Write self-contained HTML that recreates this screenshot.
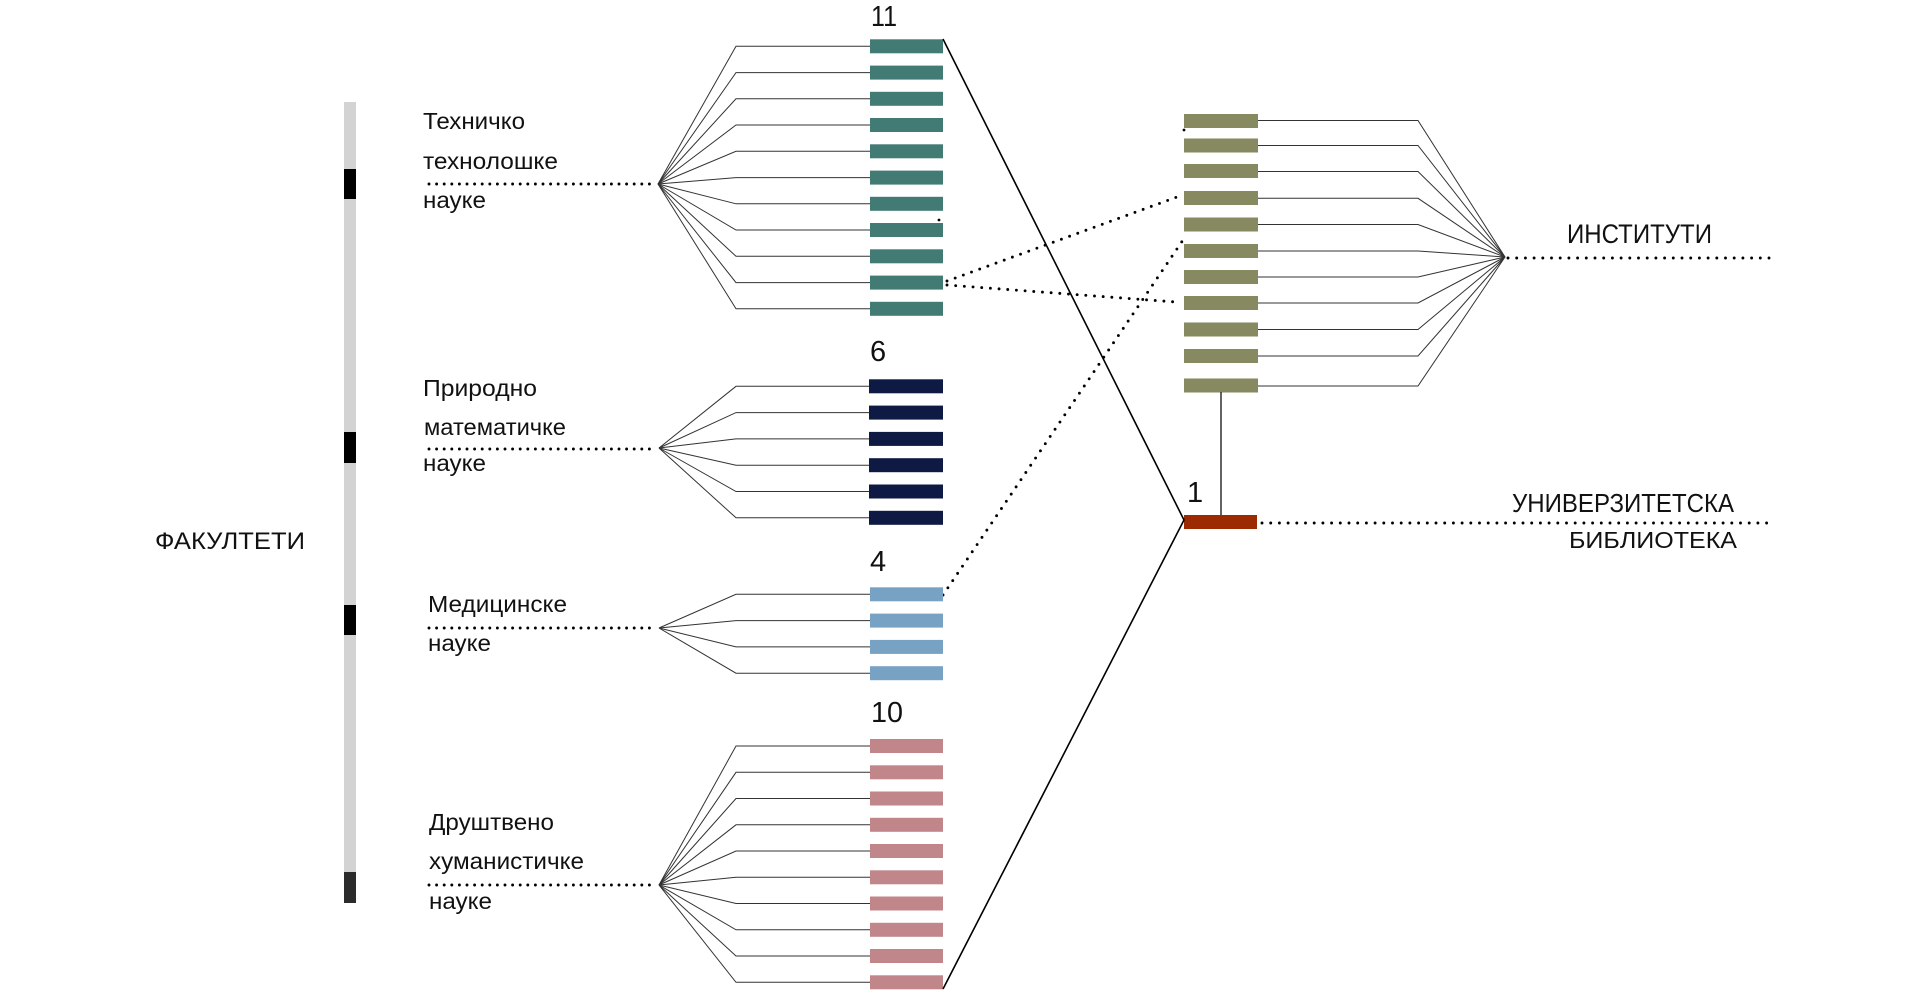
<!DOCTYPE html>
<html><head><meta charset="utf-8"><style>
html,body{margin:0;padding:0;background:#fff;}
svg{display:block;}
text{font-family:"Liberation Sans","Noto Sans CJK SC",sans-serif;fill:#111;}
</style></head><body>
<svg width="1920" height="998" viewBox="0 0 1920 998" xmlns="http://www.w3.org/2000/svg">
<!-- left vertical bar -->
<rect x="344" y="102" width="12" height="801" fill="#d3d3d3"/>
<rect x="344" y="169" width="12" height="30" fill="#000"/>
<rect x="344" y="432" width="12" height="31" fill="#000"/>
<rect x="344" y="605" width="12" height="30" fill="#000"/>
<rect x="344" y="872" width="12" height="31" fill="#2b2b2b"/>

<text x="155" y="549" font-size="24" textLength="150" lengthAdjust="spacingAndGlyphs">ФАКУЛТЕТИ</text>

<!-- left labels -->
<g font-size="23.5">
<text x="423" y="129" textLength="102" lengthAdjust="spacingAndGlyphs">Техничко</text>
<text x="423" y="169" textLength="135" lengthAdjust="spacingAndGlyphs">технолошке</text>
<text x="423" y="208" textLength="63" lengthAdjust="spacingAndGlyphs">науке</text>
<text x="423" y="396" textLength="114" lengthAdjust="spacingAndGlyphs">Природно</text>
<text x="424" y="435" textLength="142" lengthAdjust="spacingAndGlyphs">математичке</text>
<text x="423" y="471" textLength="63" lengthAdjust="spacingAndGlyphs">науке</text>
<text x="428" y="612" textLength="139" lengthAdjust="spacingAndGlyphs">Медицинске</text>
<text x="428" y="651" textLength="63" lengthAdjust="spacingAndGlyphs">науке</text>
<text x="429" y="830" textLength="125" lengthAdjust="spacingAndGlyphs">Друштвено</text>
<text x="429" y="869" textLength="155" lengthAdjust="spacingAndGlyphs">хуманистичке</text>
<text x="429" y="909" textLength="63" lengthAdjust="spacingAndGlyphs">науке</text>
</g>

<!-- numbers -->
<g font-size="29">
<text x="871" y="26" textLength="26" lengthAdjust="spacingAndGlyphs">11</text>
<text x="870" y="361">6</text>
<text x="870" y="571">4</text>
<text x="871" y="722" textLength="32" lengthAdjust="spacingAndGlyphs">10</text>
<text x="1187" y="502">1</text>
</g>

<!-- dotted lines -->
<g stroke="#000" stroke-width="2.9" stroke-linecap="round" stroke-dasharray="0 7.6" fill="none">
<line x1="429" y1="184" x2="652" y2="184"/>
<line x1="429" y1="449" x2="652" y2="449"/>
<line x1="429" y1="628" x2="652" y2="628"/>
<line x1="429" y1="885" x2="652" y2="885"/>
</g>
<g stroke="#000" stroke-width="2.9" stroke-linecap="round" stroke-dasharray="0 8.7" fill="none">
<line x1="1508" y1="258" x2="1773" y2="258"/>
<line x1="1262" y1="523" x2="1775" y2="523"/>
<line x1="947" y1="281" x2="1177" y2="197"/>
<line x1="947" y1="285" x2="1176" y2="302"/>
<line x1="943" y1="595" x2="1185" y2="237"/>
</g>
<circle cx="939" cy="220" r="1.4" fill="#000"/>
<circle cx="1184" cy="130" r="1.4" fill="#000"/>

<!-- fan lines -->
<g stroke="#333" stroke-width="1" fill="none">
<!-- teal -->
<polyline points="658,184 736,46.3 870,46.3"/>
<polyline points="658,184 736,72.6 870,72.6"/>
<polyline points="658,184 736,98.8 870,98.8"/>
<polyline points="658,184 736,125 870,125"/>
<polyline points="658,184 736,151.3 870,151.3"/>
<polyline points="658,184 736,177.6 870,177.6"/>
<polyline points="658,184 736,203.8 870,203.8"/>
<polyline points="658,184 736,230 870,230"/>
<polyline points="658,184 736,256.3 870,256.3"/>
<polyline points="658,184 736,282.6 870,282.6"/>
<polyline points="658,184 736,308.8 870,308.8"/>
<!-- navy -->
<polyline points="659,448 736,386.3 870,386.3"/>
<polyline points="659,448 736,412.6 870,412.6"/>
<polyline points="659,448 736,438.9 870,438.9"/>
<polyline points="659,448 736,465.2 870,465.2"/>
<polyline points="659,448 736,491.5 870,491.5"/>
<polyline points="659,448 736,517.8 870,517.8"/>
<!-- blue -->
<polyline points="659,628 736,594.3 870,594.3"/>
<polyline points="659,628 736,620.6 870,620.6"/>
<polyline points="659,628 736,646.9 870,646.9"/>
<polyline points="659,628 736,673.2 870,673.2"/>
<!-- pink -->
<polyline points="659,885 736,746 870,746"/>
<polyline points="659,885 736,772.3 870,772.3"/>
<polyline points="659,885 736,798.5 870,798.5"/>
<polyline points="659,885 736,824.8 870,824.8"/>
<polyline points="659,885 736,851 870,851"/>
<polyline points="659,885 736,877.3 870,877.3"/>
<polyline points="659,885 736,903.5 870,903.5"/>
<polyline points="659,885 736,929.8 870,929.8"/>
<polyline points="659,885 736,956 870,956"/>
<polyline points="659,885 736,982.3 870,982.3"/>
<!-- olive -->
<polyline points="1505,257 1418,120.5 1258,120.5"/>
<polyline points="1505,257 1418,145.5 1258,145.5"/>
<polyline points="1505,257 1418,171.5 1258,171.5"/>
<polyline points="1505,257 1418,198.3 1258,198.3"/>
<polyline points="1505,257 1418,224.5 1258,224.5"/>
<polyline points="1505,257 1418,251 1258,251"/>
<polyline points="1505,257 1418,277 1258,277"/>
<polyline points="1505,257 1418,303 1258,303"/>
<polyline points="1505,257 1418,329.5 1258,329.5"/>
<polyline points="1505,257 1418,356 1258,356"/>
<polyline points="1505,257 1418,386 1258,386"/>
</g>

<!-- bars -->
<g fill="#427B74">
<rect x="870" y="39.3" width="73" height="14"/>
<rect x="870" y="65.6" width="73" height="14"/>
<rect x="870" y="91.8" width="73" height="14"/>
<rect x="870" y="118" width="73" height="14"/>
<rect x="870" y="144.3" width="73" height="14"/>
<rect x="870" y="170.6" width="73" height="14"/>
<rect x="870" y="196.8" width="73" height="14"/>
<rect x="870" y="223" width="73" height="14"/>
<rect x="870" y="249.3" width="73" height="14"/>
<rect x="870" y="275.6" width="73" height="14"/>
<rect x="870" y="301.8" width="73" height="14"/>
</g>
<g fill="#0E1A44">
<rect x="869" y="379.3" width="74" height="14"/>
<rect x="869" y="405.6" width="74" height="14"/>
<rect x="869" y="431.9" width="74" height="14"/>
<rect x="869" y="458.2" width="74" height="14"/>
<rect x="869" y="484.5" width="74" height="14"/>
<rect x="869" y="510.8" width="74" height="14"/>
</g>
<g fill="#77A2C4">
<rect x="870" y="587.3" width="73" height="14"/>
<rect x="870" y="613.6" width="73" height="14"/>
<rect x="870" y="639.9" width="73" height="14"/>
<rect x="870" y="666.2" width="73" height="14"/>
</g>
<g fill="#C0868A">
<rect x="870" y="739" width="73" height="14"/>
<rect x="870" y="765.3" width="73" height="14"/>
<rect x="870" y="791.5" width="73" height="14"/>
<rect x="870" y="817.8" width="73" height="14"/>
<rect x="870" y="844" width="73" height="14"/>
<rect x="870" y="870.3" width="73" height="14"/>
<rect x="870" y="896.5" width="73" height="14"/>
<rect x="870" y="922.8" width="73" height="14"/>
<rect x="870" y="949" width="73" height="14"/>
<rect x="870" y="975.3" width="73" height="14"/>
</g>
<g fill="#878A60">
<rect x="1184" y="114" width="74" height="14"/>
<rect x="1184" y="138.5" width="74" height="14"/>
<rect x="1184" y="164" width="74" height="14"/>
<rect x="1184" y="191" width="74" height="14"/>
<rect x="1184" y="217.5" width="74" height="14"/>
<rect x="1184" y="244" width="74" height="14"/>
<rect x="1184" y="270" width="74" height="14"/>
<rect x="1184" y="296" width="74" height="14"/>
<rect x="1184" y="322.5" width="74" height="14"/>
<rect x="1184" y="349" width="74" height="14"/>
<rect x="1184" y="378.5" width="74" height="14"/>
</g>

<!-- vertical connector & library -->
<line x1="1221" y1="392" x2="1221" y2="515" stroke="#111" stroke-width="1.3"/>
<rect x="1184" y="515" width="73" height="14" fill="#9C2A02"/>

<!-- solid diagonals -->
<polyline points="943,39 1184,520 943,989" fill="none" stroke="#000" stroke-width="1.6"/>

<!-- right labels -->
<text x="1567" y="243" font-size="27" textLength="145" lengthAdjust="spacingAndGlyphs">ИНСТИТУТИ</text>
<text x="1512" y="512" font-size="25.5" textLength="222" lengthAdjust="spacingAndGlyphs">УНИВЕРЗИТЕТСКА</text>
<text x="1569" y="548" font-size="23.5" textLength="168" lengthAdjust="spacingAndGlyphs">БИБЛИОТЕКА</text>
</svg>
</body></html>
